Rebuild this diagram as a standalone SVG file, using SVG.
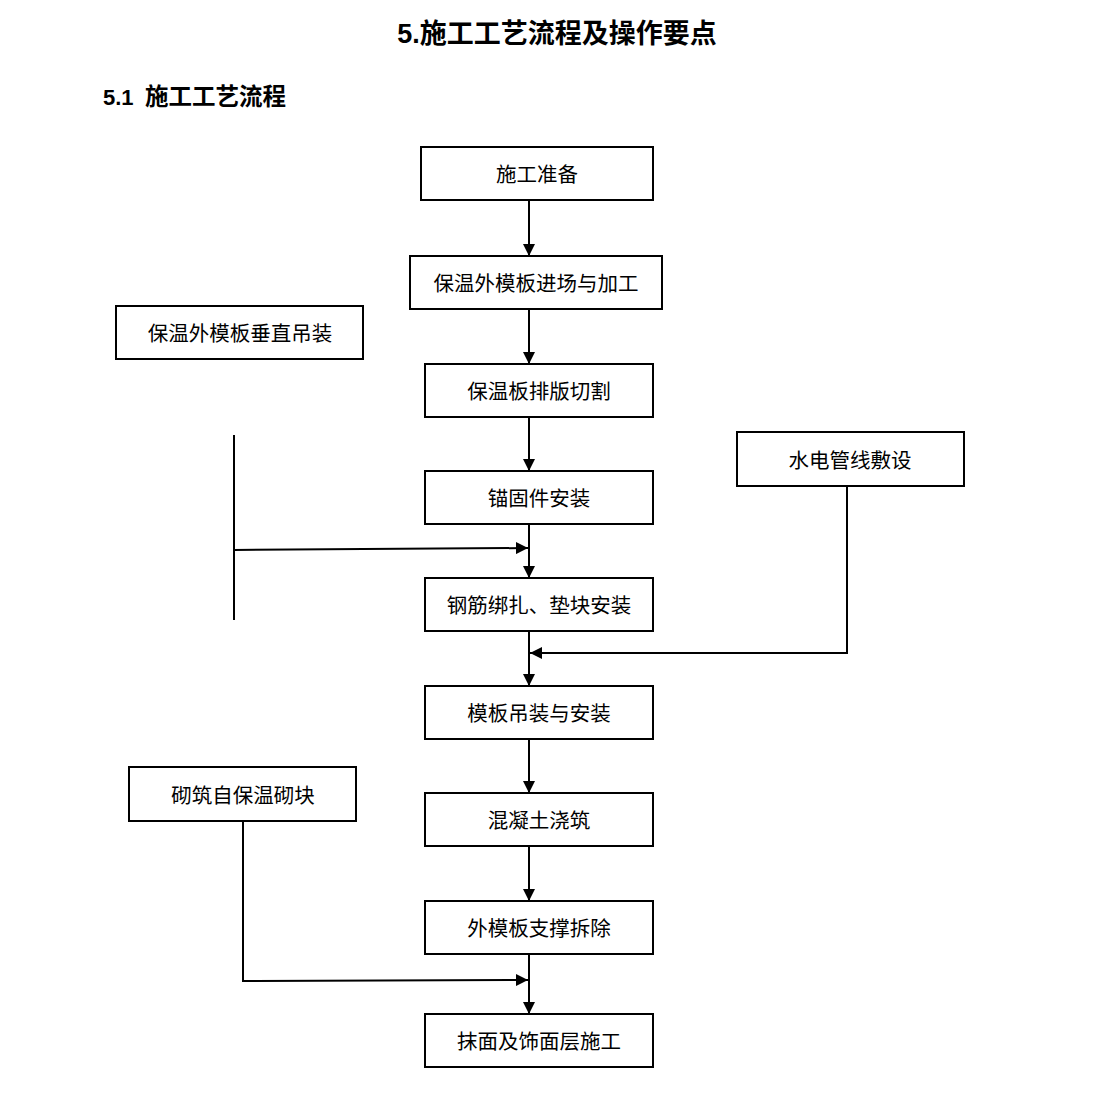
<svg xmlns="http://www.w3.org/2000/svg" width="1116" height="1098" viewBox="0 0 1116 1098">
<defs>
<style>
.box{fill:#fff;stroke:#000;stroke-width:2}
.lbl{font-family:"Liberation Sans","Noto Sans CJK SC",sans-serif;font-size:20.5px;fill:#000;text-anchor:middle}
.hd{font-family:"Liberation Sans","Noto Sans CJK SC",sans-serif;font-weight:bold;fill:#000}
.ln{fill:none;stroke:#000;stroke-width:2}
</style>
<marker id="ah" viewBox="0 0 12 12" refX="12" refY="6" markerWidth="12" markerHeight="12" markerUnits="userSpaceOnUse" orient="auto">
<path d="M0,0 L12,6 L0,12 Z" fill="#000"/>
</marker>
</defs>
<rect width="1116" height="1098" fill="#fff"/>
<text class="hd" x="557" y="43" font-size="27" text-anchor="middle">5.施工工艺流程及操作要点</text>
<text class="hd" x="103" y="105" font-size="22">5.1<tspan x="145" font-size="23.5">施工工艺流程</tspan></text>

<g id="connectors">
<line class="ln" x1="529" y1="200" x2="529" y2="256" marker-end="url(#ah)"/>
<line class="ln" x1="529" y1="309" x2="529" y2="364" marker-end="url(#ah)"/>
<line class="ln" x1="529" y1="417" x2="529" y2="471" marker-end="url(#ah)"/>
<line class="ln" x1="529" y1="524" x2="529" y2="578" marker-end="url(#ah)"/>
<line class="ln" x1="529" y1="631" x2="529" y2="686" marker-end="url(#ah)"/>
<line class="ln" x1="529" y1="739" x2="529" y2="793" marker-end="url(#ah)"/>
<line class="ln" x1="529" y1="846" x2="529" y2="901" marker-end="url(#ah)"/>
<line class="ln" x1="529" y1="954" x2="529" y2="1014" marker-end="url(#ah)"/>
<line class="ln" x1="234" y1="435" x2="234" y2="620"/>
<line class="ln" x1="234" y1="550" x2="528" y2="548" marker-end="url(#ah)"/>
<polyline class="ln" points="847,486 847,653 530,653" marker-end="url(#ah)"/>
<polyline class="ln" points="243,821 243,981 528,980" marker-end="url(#ah)"/>
</g>

<g id="n1"><rect class="box" x="421" y="147" width="232" height="53"/><text class="lbl" x="537" y="182">施工准备</text></g>
<g id="n2"><rect class="box" x="410" y="256" width="252" height="53"/><text class="lbl" x="536" y="291">保温外模板进场与加工</text></g>
<g id="n3"><rect class="box" x="425" y="364" width="228" height="53"/><text class="lbl" x="539" y="399">保温板排版切割</text></g>
<g id="n4"><rect class="box" x="425" y="471" width="228" height="53"/><text class="lbl" x="539" y="506">锚固件安装</text></g>
<g id="n5"><rect class="box" x="425" y="578" width="228" height="53"/><text class="lbl" x="539" y="613">钢筋绑扎、垫块安装</text></g>
<g id="n6"><rect class="box" x="425" y="686" width="228" height="53"/><text class="lbl" x="539" y="721">模板吊装与安装</text></g>
<g id="n7"><rect class="box" x="425" y="793" width="228" height="53"/><text class="lbl" x="539" y="828">混凝土浇筑</text></g>
<g id="n8"><rect class="box" x="425" y="901" width="228" height="53"/><text class="lbl" x="539" y="936">外模板支撑拆除</text></g>
<g id="n9"><rect class="box" x="425" y="1014" width="228" height="53"/><text class="lbl" x="539" y="1049">抹面及饰面层施工</text></g>
<g id="s1"><rect class="box" x="116" y="306" width="247" height="53"/><text class="lbl" x="240" y="341">保温外模板垂直吊装</text></g>
<g id="s2"><rect class="box" x="737" y="432" width="227" height="54"/><text class="lbl" x="850" y="468">水电管线敷设</text></g>
<g id="s3"><rect class="box" x="129" y="767" width="227" height="54"/><text class="lbl" x="243" y="803">砌筑自保温砌块</text></g>
</svg>
